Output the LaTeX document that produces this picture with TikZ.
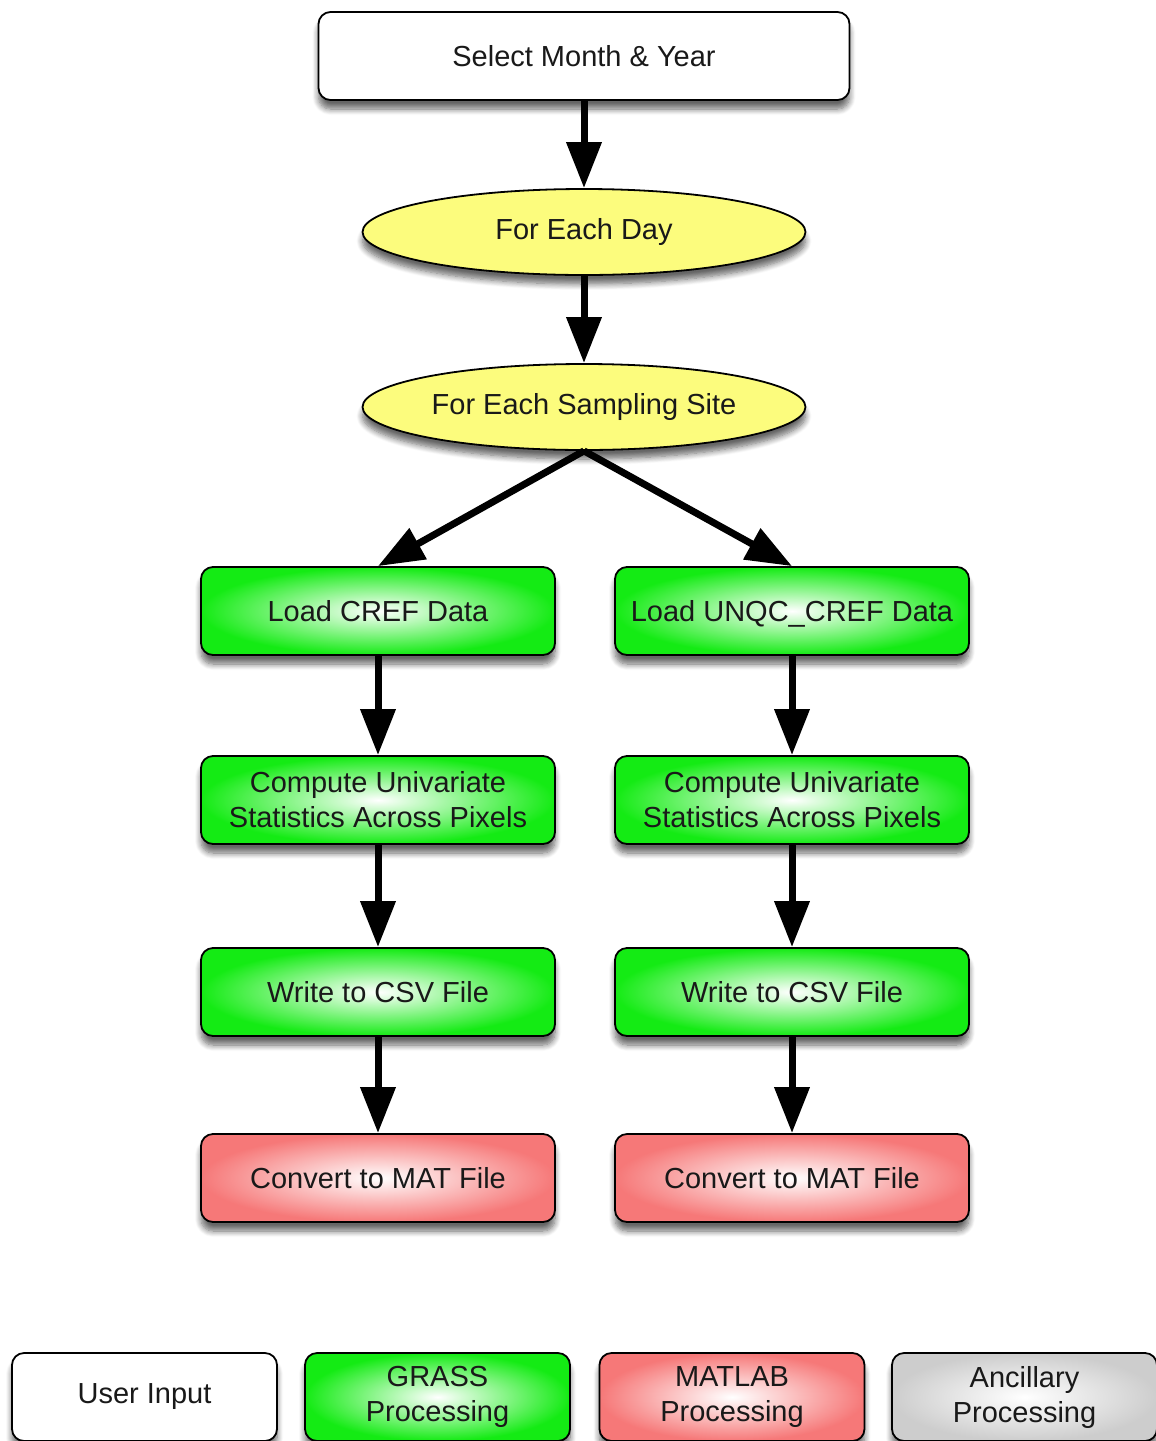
\documentclass[tikz,border=0pt]{standalone}
\usepackage{fontspec}
\setmainfont{Liberation Sans}
\usetikzlibrary{arrows.meta,shapes.geometric,shadows.blur}
\definecolor{grassgreen}{RGB}{20,235,20}
\definecolor{matred}{RGB}{246,120,120}
\definecolor{ancgray}{RGB}{205,205,205}
\definecolor{ellyellow}{RGB}{252,252,125}
\begin{document}
\begin{tikzpicture}[x=1pt,y=-1pt,
  base/.style={draw=black, line width=1.8pt, rounded corners=12pt,
    minimum width=354pt, minimum height=88pt, align=center, inner sep=0pt,
    text=black!90, font=\fontsize{29}{35}\selectfont,
    blur shadow={shadow xshift=0pt, shadow yshift=-9pt, shadow blur radius=6pt, shadow blur steps=8, shadow opacity=60}},
  userbox/.style={base, fill=white},
  grassbox/.style={base, inner color=white, outer color=grassgreen},
  matbox/.style={base, inner color=white, outer color=matred},
  ancbox/.style={base, inner color=white, outer color=ancgray},
  loopell/.style={ellipse, draw=black, line width=1.8pt, fill=ellyellow,
    minimum width=443pt, minimum height=86pt, inner sep=0pt, text=black!90,
    font=\fontsize{29}{35}\selectfont,
    blur shadow={shadow xshift=0pt, shadow yshift=-9pt, shadow blur radius=6pt, shadow blur steps=8, shadow opacity=60}},
  legend/.style={minimum width=265pt, minimum height=88pt},
  flow/.style={line width=7pt, -{Triangle[length=46pt,width=34pt]}}
]
\useasboundingbox (0,0) rectangle (1156,1441);

\node[userbox, minimum width=531pt] (sel) at (584,56) {Select Month \& Year};
\node[loopell] (day) at (584,232) {For Each Day};
\node[loopell] (site) at (584,407) {For Each Sampling Site};

\node[grassbox] (l1) at (378,611) {Load CREF Data};
\node[grassbox, text depth=0pt] (r1) at (792,611) {Load UNQC\_CREF Data};
\node[grassbox] (l2) at (378,800) {Compute Univariate\\Statistics Across Pixels};
\node[grassbox] (r2) at (792,800) {Compute Univariate\\Statistics Across Pixels};
\node[grassbox] (l3) at (378,992) {Write to CSV File};
\node[grassbox] (r3) at (792,992) {Write to CSV File};
\node[matbox] (l4) at (378,1178) {Convert to MAT File};
\node[matbox] (r4) at (792,1178) {Convert to MAT File};

\node[userbox, legend] (lg1) at (144.5,1397) {User Input};
\node[grassbox, legend] (lg2) at (437.5,1397) {GRASS\\Processing};
\node[matbox, legend] (lg3) at (732,1397) {MATLAB\\Processing};
\node[ancbox, legend] (lg4) at (1024.5,1397) {Ancillary\\Processing};

\draw[flow] (sel.south) -- (day.north);
\draw[flow] (day.south) -- (site.north);
\draw[flow] (site.south) -- (l1.north);
\draw[flow] (site.south) -- (r1.north);
\draw[flow] (l1.south) -- (l2.north);
\draw[flow] (r1.south) -- (r2.north);
\draw[flow] (l2.south) -- (l3.north);
\draw[flow] (r2.south) -- (r3.north);
\draw[flow] (l3.south) -- (l4.north);
\draw[flow] (r3.south) -- (r4.north);
\end{tikzpicture}
\end{document}
